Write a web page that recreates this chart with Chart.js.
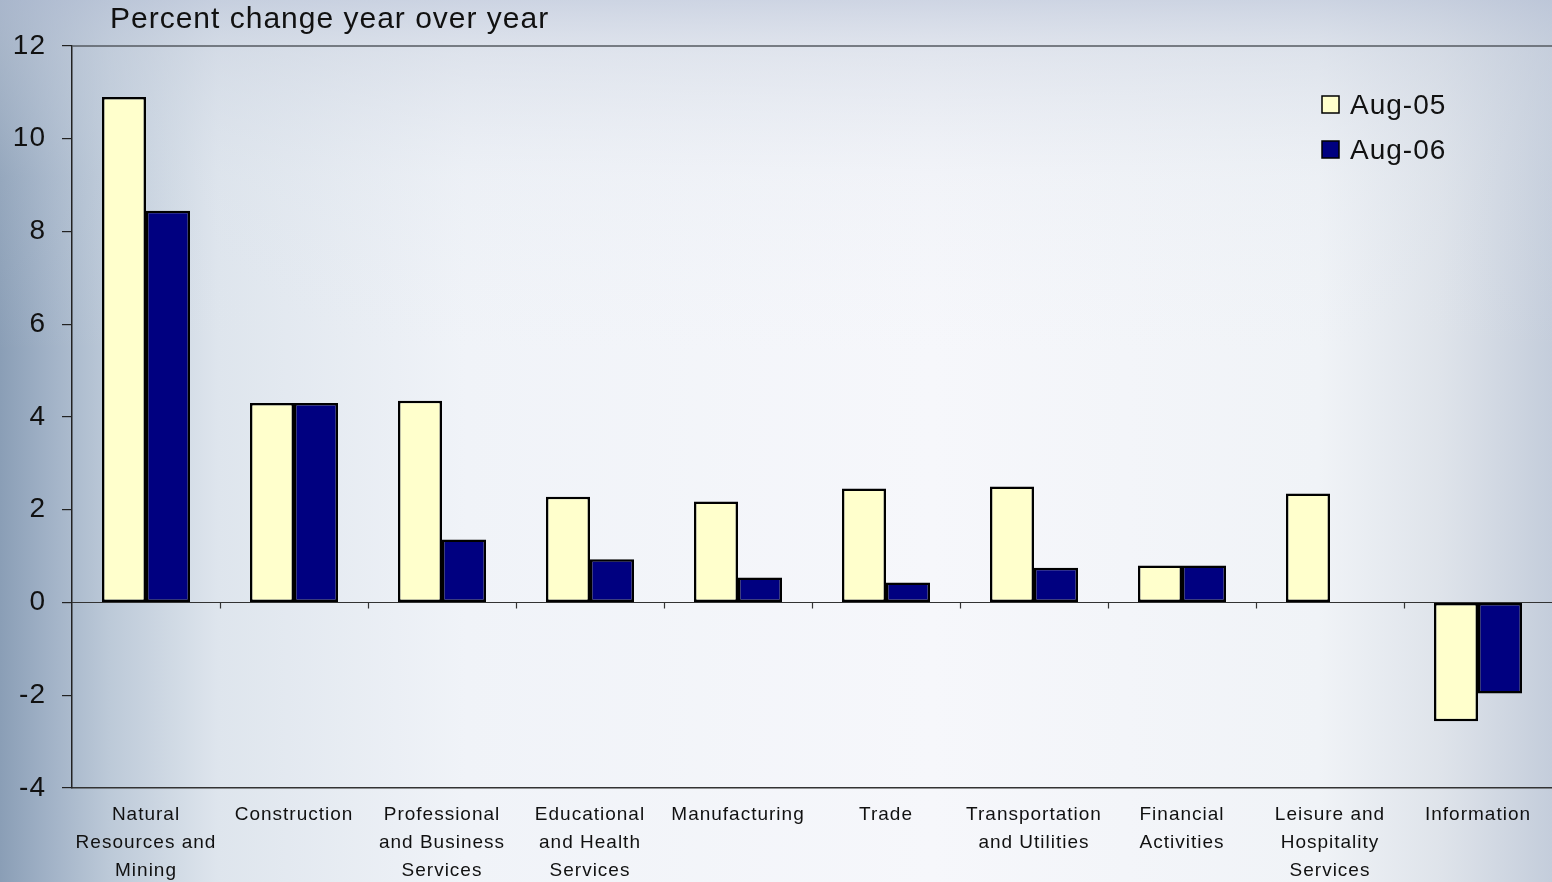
<!DOCTYPE html>
<html lang="en">
<head>
  <meta charset="UTF-8" />
  <title>Percent change year over year</title>
  <script src="https://cdn.jsdelivr.net/npm/chart.js@4.4.0/dist/chart.umd.min.js"></script>
  <style>
    html, body { margin: 0; padding: 0; width: 100%; height: 100%; overflow: hidden; }
    #wrap { position: relative; width: 1552px; height: 882px; }
  </style>
</head>
<body>
  <div id="wrap"><canvas id="sectorChart"></canvas></div>

  <script>
    const sectors = [
      ['Natural', 'Resources and', 'Mining'],
      'Construction',
      ['Professional', 'and Business', 'Services'],
      ['Educational', 'and Health', 'Services'],
      'Manufacturing',
      'Trade',
      ['Transportation', 'and Utilities'],
      ['Financial', 'Activities'],
      ['Leisure and', 'Hospitality', 'Services'],
      'Information'
    ];
    const aug05 = [10.9, 4.3, 4.35, 2.28, 2.18, 2.46, 2.5, 0.8, 2.35, -2.56];
    const aug06 = [8.45, 4.3, 1.36, 0.93, 0.54, 0.43, 0.75, 0.8, 0, -1.96];
    const yTicks = [-4, -2, 0, 2, 4, 6, 8, 10, 12];
    const chartTitle = 'Percent change year over year';

    const FONT = 'Arial, "Liberation Sans", Helvetica, sans-serif';

    // slide-style backdrop: blue-grey edges, pale centre
    const backdrop = {
      id: 'backdrop',
      beforeDraw(chart) {
        const { ctx, width, height } = chart;
        ctx.save();
        const h = ctx.createLinearGradient(0, 0, width, 0);
        h.addColorStop(0, 'rgb(138,158,182)');
        h.addColorStop(0.03, 'rgb(160,177,198)');
        h.addColorStop(0.07, 'rgb(188,201,216)');
        h.addColorStop(0.14, 'rgb(222,229,237)');
        h.addColorStop(0.3, 'rgb(240,243,248)');
        h.addColorStop(0.6, 'rgb(246,247,251)');
        h.addColorStop(0.85, 'rgb(240,243,247)');
        h.addColorStop(0.93, 'rgb(222,227,234)');
        h.addColorStop(1, 'rgb(196,205,219)');
        ctx.fillStyle = h;
        ctx.fillRect(0, 0, width, height);
        const v = ctx.createLinearGradient(0, 0, 0, height);
        v.addColorStop(0, 'rgba(185,195,215,0.65)');
        v.addColorStop(0.06, 'rgba(200,208,222,0.45)');
        v.addColorStop(0.2, 'rgba(215,222,232,0.15)');
        v.addColorStop(0.4, 'rgba(230,235,242,0)');
        ctx.fillStyle = v;
        ctx.fillRect(0, 0, width, height);
        ctx.restore();
      }
    };

    // frame top line, zero line with category ticks, title and legend
    const decorations = {
      id: 'decorations',
      beforeLayout(chart) { chart.ctx.letterSpacing = '1px'; },
      beforeDraw(chart) { chart.ctx.letterSpacing = '1px'; },
      beforeDatasetsDraw(chart) {
        const { ctx, chartArea, scales: { x, y } } = chart;
        ctx.save();
        ctx.strokeStyle = '#555a60';
        ctx.lineWidth = 1.5;
        ctx.beginPath();
        ctx.moveTo(chartArea.left, chartArea.top);
        ctx.lineTo(chartArea.right, chartArea.top);
        ctx.stroke();

        const y0 = y.getPixelForValue(0);
        ctx.strokeStyle = '#333';
        ctx.lineWidth = 1.2;
        ctx.beginPath();
        ctx.moveTo(chartArea.left, y0);
        ctx.lineTo(chartArea.right, y0);
        const step = chartArea.width / sectors.length;
        for (let i = 1; i < sectors.length; i++) {
          const bx = Math.round(x.getPixelForValue(i) - step / 2) + 0.5;
          ctx.moveTo(bx, y0);
          ctx.lineTo(bx, y0 + 6);
        }
        ctx.stroke();
        ctx.restore();
      },
      afterDraw(chart) {
        const { ctx } = chart;
        ctx.save();
        ctx.letterSpacing = '1px';
        ctx.fillStyle = '#111';
        ctx.textBaseline = 'middle';
        ctx.textAlign = 'left';
        ctx.font = '30px ' + FONT;
        ctx.fillText(chartTitle, 110, 20);

        ctx.font = '28px ' + FONT;
        chart.data.datasets.forEach((ds, i) => {
          const ly = 105 + i * 45;
          ctx.fillStyle = ds.backgroundColor;
          ctx.fillRect(1322, ly - 9, 17, 17);
          ctx.strokeStyle = '#000';
          ctx.lineWidth = 1.5;
          ctx.strokeRect(1322, ly - 9, 17, 17);
          ctx.fillStyle = '#111';
          ctx.fillText(ds.label, 1350, ly + 1);
        });
        ctx.restore();
      }
    };

    const ctx = document.getElementById('sectorChart').getContext('2d');

    new Chart(ctx, {
      type: 'bar',
      data: {
        labels: sectors,
        datasets: [
          {
            label: 'Aug-05',
            data: aug05,
            backgroundColor: '#FFFFCC',
            borderColor: '#000',
            borderWidth: 2.5,
            borderSkipped: false
          },
          {
            label: 'Aug-06',
            data: aug06,
            backgroundColor: '#000080',
            borderColor: '#000',
            borderWidth: 2.5,
            borderSkipped: false
          }
        ]
      },
      options: {
        responsive: true,
        maintainAspectRatio: false,
        animation: false,
        layout: { padding: { left: 0, right: 0, top: 46, bottom: 0 } },
        datasets: {
          bar: { barPercentage: 1, categoryPercentage: 0.595 }
        },
        scales: {
          x: {
            z: 1,
            afterFit(scale) { scale.height = 94; },
            grid: { display: false, drawTicks: false },
            border: { display: true, color: '#333', width: 1.5 },
            ticks: {
              color: '#111',
              padding: 13,
              maxRotation: 0,
              autoSkip: false,
              font: { family: FONT, size: 19, lineHeight: 1.47 }
            }
          },
          y: {
            min: -4,
            max: 12,
            afterFit(scale) { scale.width = 72; },
            afterBuildTicks(scale) {
              scale.ticks = yTicks.map(v => ({ value: v }));
            },
            grid: { drawOnChartArea: false, drawTicks: true, tickLength: 10, color: '#222', lineWidth: 1.2 },
            border: { display: true, color: '#222', width: 1.5 },
            ticks: {
              color: '#111',
              padding: 16,
              font: { family: FONT, size: 28 }
            }
          }
        },
        plugins: {
          legend: { display: false },
          title: { display: false },
          tooltip: { enabled: false }
        }
      },
      plugins: [backdrop, decorations]
    });
  </script>
</body>
</html>
